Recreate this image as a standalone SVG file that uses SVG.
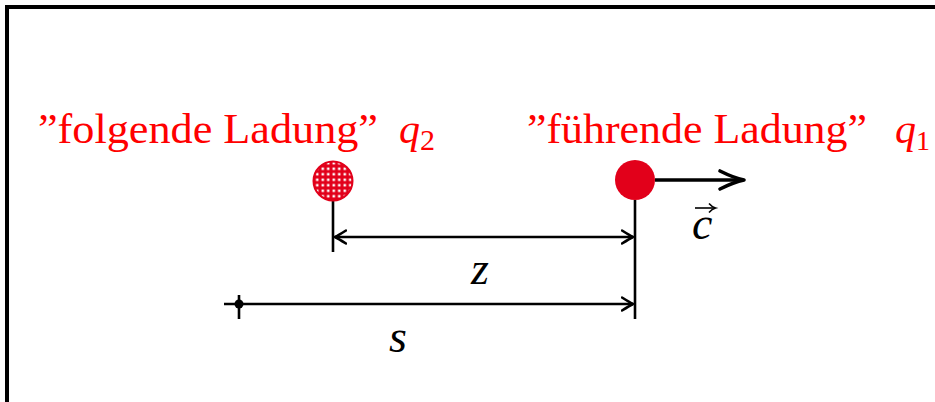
<svg xmlns="http://www.w3.org/2000/svg" width="935" height="402" viewBox="0 0 935 402">
<style>
.lbl{font-family:"Liberation Serif","DejaVu Serif",serif;fill:#ff0000;font-size:42px}
.math{font-family:"Liberation Serif","DejaVu Serif",serif;font-style:italic;fill:#000;font-size:46px}
.ln{stroke:#000;stroke-width:2.6;fill:none}
</style>
<defs>
<marker id="ah" viewBox="-12 -8 14 16" markerWidth="14" markerHeight="16" refX="0" refY="0" orient="auto-start-reverse" markerUnits="userSpaceOnUse">
<path d="M -11 -6.5 Q -3 -1.5 0 0 Q -3 1.5 -11 6.5" fill="none" stroke="#000" stroke-width="2.6" stroke-linecap="round" stroke-linejoin="round"/>
</marker>
<pattern id="dots" width="5.5" height="5.5" patternUnits="userSpaceOnUse" x="1" y="1">
<rect width="5.5" height="5.5" fill="#e2001a"/>
<rect x="1.5" y="1.5" width="2.5" height="2.5" fill="#fff"/>
</pattern>
</defs>
<path d="M 7 402 V 7 H 935" fill="none" stroke="#000" stroke-width="4"/>
<g id="connectors">
<line class="ln" x1="333" y1="200" x2="333" y2="252"/>
<line class="ln" x1="635" y1="200" x2="635" y2="319"/>
<line class="ln" x1="335" y1="237" x2="633" y2="237" marker-start="url(#ah)" marker-end="url(#ah)"/>
<line class="ln" x1="224" y1="304" x2="633" y2="304" marker-end="url(#ah)"/>
<line class="ln" x1="239" y1="295" x2="239" y2="319"/>
<circle cx="239" cy="304" r="4.5" fill="#000"/>
<path d="M 655 180 H 738" stroke="#000" stroke-width="3.6" fill="none"/>
<path d="M 720 171 Q 734 178 744 180 Q 734 182 720 189" fill="none" stroke="#000" stroke-width="3.6" stroke-linecap="round" stroke-linejoin="round"/>
</g>
<g id="q2">
<circle cx="333" cy="181" r="19.5" fill="url(#dots)" stroke="#e2001a" stroke-width="2"/>
<text class="lbl" x="38" y="143" textLength="340" lengthAdjust="spacingAndGlyphs">”folgende Ladung”</text>
<text class="lbl" x="399" y="143" font-style="italic" font-size="46">q<tspan font-style="normal" font-size="30" dy="7">2</tspan></text>
</g>
<g id="q1">
<circle cx="635" cy="180" r="20" fill="#e2001a"/>
<text class="lbl" x="527" y="143" textLength="340" lengthAdjust="spacingAndGlyphs">”führende Ladung”</text>
<text class="lbl" x="895" y="143" font-style="italic" font-size="44">q<tspan font-style="normal" font-size="28" dy="7">1</tspan></text>
</g>
<g id="labels">
<text class="math" x="471" y="284">z</text>
<text class="math" x="389" y="352">s</text>
<text class="math" x="692" y="239">c</text>
<path d="M 695 208 H 714" stroke="#000" stroke-width="1.6" fill="none"/>
<path d="M 709 203.5 Q 712 207 715.5 208 Q 712 209 709 212.5" stroke="#000" stroke-width="1.6" fill="none"/>
</g>
</svg>
